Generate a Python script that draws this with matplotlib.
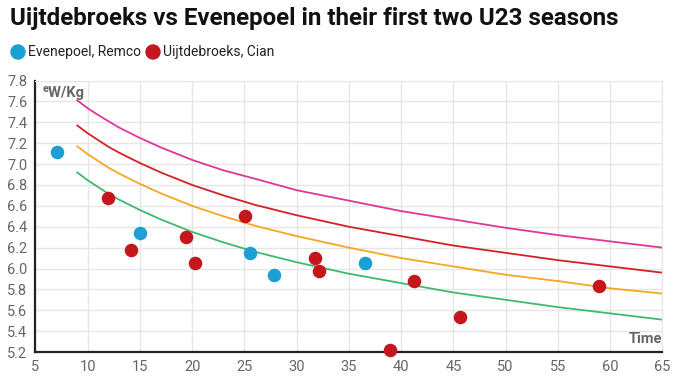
import matplotlib
matplotlib.use("Agg")
import matplotlib.pyplot as plt

# --- data ---
title = "Uijtdebroeks vs Evenepoel in their first two U23 seasons"
evenepoel_name = "Evenepoel, Remco"
uijtdebroeks_name = "Uijtdebroeks, Cian"

evenepoel_time = [7.1, 15.0, 25.5, 27.8, 36.5]
evenepoel_wkg = [7.12, 6.34, 6.15, 5.94, 6.05]

uijtdebroeks_time = [11.9, 14.1, 19.4, 20.3, 25.1, 31.8, 32.1, 38.9, 41.2, 45.6, 58.9]
uijtdebroeks_wkg = [6.68, 6.18, 6.30, 6.05, 6.50, 6.10, 5.98, 5.22, 5.88, 5.54, 5.83]

curve_time = [9, 10, 11, 12, 13, 15, 17, 20, 23, 26, 30, 35, 40, 45, 50, 55, 60, 65]
curve_pink = [7.61, 7.535, 7.47, 7.41, 7.35, 7.25, 7.16, 7.04, 6.94, 6.86, 6.75, 6.65,
              6.55, 6.47, 6.39, 6.32, 6.26, 6.20]
curve_red = [7.37, 7.295, 7.23, 7.165, 7.11, 7.01, 6.92, 6.80, 6.70, 6.61, 6.51, 6.40,
             6.31, 6.22, 6.15, 6.08, 6.02, 5.96]
curve_orange = [7.17, 7.095, 7.03, 6.965, 6.91, 6.81, 6.72, 6.60, 6.50, 6.41, 6.31, 6.20,
                6.10, 6.02, 5.94, 5.88, 5.81, 5.76]
curve_green = [6.92, 6.845, 6.78, 6.715, 6.66, 6.56, 6.47, 6.35, 6.25, 6.16, 6.06, 5.95,
               5.86, 5.77, 5.70, 5.63, 5.57, 5.51]

x_ticks = [5, 10, 15, 20, 25, 30, 35, 40, 45, 50, 55, 60, 65]
y_ticks = [5.2, 5.4, 5.6, 5.8, 6.0, 6.2, 6.4, 6.6, 6.8, 7.0, 7.2, 7.4, 7.6, 7.8]

plt.rcParams['font.family'] = ['Roboto', 'DejaVu Sans']

fig = plt.figure(figsize=(6.8, 3.82), dpi=100)
ax = fig.add_axes([0.0522, 0.0785, 0.974 - 0.0522, 0.789 - 0.0785])

ax.set_xlim(5, 65)
ax.set_ylim(5.2, 7.8)
ax.set_xticks(x_ticks)
ax.set_yticks(y_ticks)
ax.set_yticklabels([f"{v:.1f}" for v in y_ticks])
ax.grid(True, color='#e6e6e6', linewidth=1)
ax.set_axisbelow(True)
ax.tick_params(length=0, colors='#666666', labelsize=10.5, pad=6)
for s in ['top', 'right']:
    ax.spines[s].set_color('#e6e6e6')
for s in ['left', 'bottom']:
    ax.spines[s].set_color('#222222')
    ax.spines[s].set_linewidth(1.6)

ax.plot(curve_time, curve_pink, color='#e0359a', lw=1.3)
ax.plot(curve_time, curve_red, color='#d62027', lw=1.3)
ax.plot(curve_time, curve_orange, color='#f5a623', lw=1.3)
ax.plot(curve_time, curve_green, color='#3dbb6c', lw=1.3)

blue = '#1c9fd3'
red = '#c4161c'
ax.scatter(evenepoel_time, evenepoel_wkg, s=95, color=blue, zorder=5, clip_on=False, linewidths=0)
ax.scatter(uijtdebroeks_time, uijtdebroeks_wkg, s=95, color=red, zorder=5, clip_on=False, linewidths=0)

ax.text(0.011, 0.98, "ᵉW/Kg", transform=ax.transAxes, ha='left', va='top',
        fontsize=10.5, fontweight='bold', color='#666666')
ax.text(1.0, 0.022, "Time", transform=ax.transAxes, ha='right', va='bottom',
        fontsize=10.5, fontweight='bold', color='#666666')

fig.text(10 / 680, 1 - 18 / 382, title, ha='left', va='center',
         fontsize=17.4, fontweight='bold', color='#111111')

# legend
fig.patches.append(matplotlib.patches.Ellipse((18 / 680, 1 - 52 / 382), 14 / 680, 14 / 382,
                                              transform=fig.transFigure, color=blue))
fig.text(28 / 680, 1 - 52 / 382, evenepoel_name, ha='left', va='center', fontsize=10, color='#222222')
fig.patches.append(matplotlib.patches.Ellipse((153 / 680, 1 - 52 / 382), 14 / 680, 14 / 382,
                                              transform=fig.transFigure, color=red))
fig.text(163 / 680, 1 - 52 / 382, uijtdebroeks_name, ha='left', va='center', fontsize=10, color='#222222')

fig.savefig("out.png", dpi=100)
